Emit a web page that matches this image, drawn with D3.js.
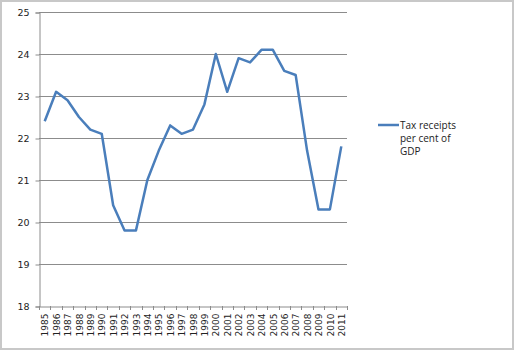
<!DOCTYPE html>
<html>
<head>
<meta charset="utf-8">
<script src="https://cdn.jsdelivr.net/npm/d3@7"></script>
<style>
  body { margin: 0; background: #fff; }
  svg { display: block; }
</style>
</head>
<body>
<div id="chart"></div>
<script>
// values
const years = ['1985','1986','1987','1988','1989','1990','1991','1992','1993','1994','1995','1996','1997','1998','1999','2000','2001','2002','2003','2004','2005','2006','2007','2008','2009','2010','2011'];
const taxReceipts = [22.4, 23.1, 22.9, 22.5, 22.2, 22.1, 20.4, 19.8, 19.8, 21.0, 21.7, 22.3, 22.1, 22.2, 22.8, 24.0, 23.1, 23.9, 23.8, 24.1, 24.1, 23.6, 23.5, 21.7, 20.3, 20.3, 21.8];
const yTicks = [18, 19, 20, 21, 22, 23, 24, 25];
const legendLines = ['Tax receipts', 'per cent of', 'GDP'];

const width = 515, height = 351;
const margin = { top: 12, right: 168, bottom: 45, left: 39 };

const svg = d3.select('#chart').append('svg')
  .attr('width', width)
  .attr('height', height);

// outer chart frame
svg.append('rect')
  .attr('x', 1).attr('y', 1)
  .attr('width', width - 3).attr('height', height - 3)
  .attr('fill', '#fff')
  .attr('stroke', '#c8c8c8')
  .attr('stroke-width', 2);

const x = d3.scaleBand()
  .domain(years)
  .range([margin.left, width - margin.right]);

const y = d3.scaleLinear()
  .domain([18, 25])
  .range([height - margin.bottom, margin.top]);

// gridlines
svg.append('g')
  .selectAll('line')
  .data(yTicks.slice(1))
  .join('line')
  .attr('x1', margin.left).attr('x2', width - margin.right)
  .attr('y1', d => y(d) + 0.5).attr('y2', d => y(d) + 0.5)
  .attr('stroke', '#8c8c8c')
  .attr('stroke-width', 1);

// y axis
const yAxis = svg.append('g')
  .attr('transform', `translate(${margin.left + 0.5},0.5)`)
  .call(d3.axisLeft(y).tickValues(yTicks).tickSize(4).tickPadding(6).tickFormat(d3.format('d')));
yAxis.select('.domain').attr('stroke', '#8c8c8c');
yAxis.selectAll('.tick line').attr('stroke', '#8c8c8c');
yAxis.selectAll('.tick text')
  .attr('font-family', 'DejaVu Sans, Verdana, sans-serif')
  .attr('font-size', 9.5)
  .attr('fill', '#222');

// x axis
const xAxis = svg.append('g')
  .attr('transform', `translate(0.5,${height - margin.bottom + 0.5})`)
  .call(d3.axisBottom(x).tickSize(0).tickPadding(0));
xAxis.select('.domain').attr('stroke', '#8c8c8c');
xAxis.selectAll('.tick text')
  .attr('font-family', 'DejaVu Sans, Verdana, sans-serif')
  .attr('font-size', 9)
  .attr('fill', '#222')
  .attr('transform', 'rotate(-90)')
  .attr('text-anchor', 'end')
  .attr('dy', '0.35em')
  .attr('x', -7)
  .attr('y', 0);
// tick marks on category boundaries
svg.append('g')
  .selectAll('line')
  .data(years.concat(['end']))
  .join('line')
  .attr('x1', (d, i) => Math.round(margin.left + i * x.step()) + 0.5)
  .attr('x2', (d, i) => Math.round(margin.left + i * x.step()) + 0.5)
  .attr('y1', height - margin.bottom)
  .attr('y2', height - margin.bottom + 4)
  .attr('stroke', '#8c8c8c');

// series line
const line = d3.line()
  .x((d, i) => x(years[i]) + x.bandwidth() / 2)
  .y(d => y(d));

svg.append('path')
  .datum(taxReceipts)
  .attr('fill', 'none')
  .attr('stroke', '#4a7ebb')
  .attr('stroke-width', 2.5)
  .attr('stroke-linejoin', 'round')
  .attr('d', line);

// legend
const legend = svg.append('g').attr('transform', 'translate(378,125)');
legend.append('line')
  .attr('x1', 0).attr('x2', 21)
  .attr('y1', 0).attr('y2', 0)
  .attr('stroke', '#4a7ebb')
  .attr('stroke-width', 2.5);
legend.append('text')
  .attr('font-family', 'Open Sans, Liberation Sans, sans-serif')
  .attr('font-size', 10)
  .attr('fill', '#222')
  .selectAll('tspan')
  .data(legendLines)
  .join('tspan')
  .attr('x', 22)
  .attr('y', (d, i) => 4 + i * 13)
  .text(d => d);
</script>
</body>
</html>
